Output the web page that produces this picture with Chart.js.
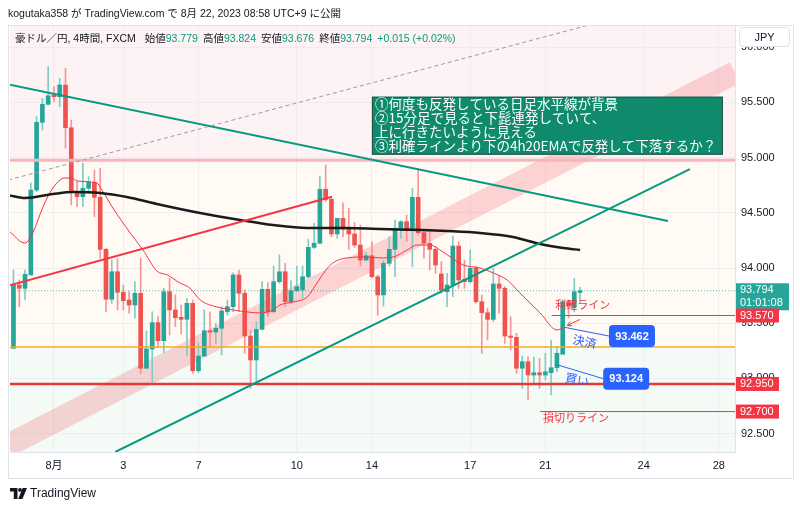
<!DOCTYPE html>
<html><head><meta charset="utf-8">
<script src="https://cdn.jsdelivr.net/npm/chart.js@4.4.0/dist/chart.umd.min.js"></script>
<style>
html,body{margin:0;padding:0;background:#fff;width:800px;height:508px;overflow:hidden;}
#wrap{position:relative;width:800px;height:508px;font-family:"Liberation Sans","Noto Sans CJK JP",sans-serif;color:#131722;}
canvas{position:absolute;left:0;top:0;}
.pub{position:absolute;left:8px;top:5px;font-size:10.5px;white-space:nowrap;}
.legend{position:absolute;left:15px;top:30px;font-size:10.5px;white-space:nowrap;}
.legend span{margin-right:5px;}
.legend .v{color:#089981;margin-left:0;}
.legend .k{margin-right:0;}
.jpy{position:absolute;left:739px;top:27px;width:49px;height:18px;border:1px solid #e0e3eb;border-radius:4px;background:#fff;font-size:11px;line-height:18px;text-align:center;}
.tv{position:absolute;left:10px;top:486px;font-size:12px;display:flex;align-items:center;gap:3px;}
</style></head>
<body><div id="wrap">
<canvas id="c" width="800" height="508"></canvas>
<div class="pub">kogutaka358 が TradingView.com で 8月 22, 2023 08:58 UTC+9 に公開</div>
<div class="legend"><span style="margin-right:9px">豪ドル／円, 4時間, FXCM</span><span class="k">始値</span><span class="v">93.779</span><span class="k">高値</span><span class="v">93.824</span><span class="k">安値</span><span class="v">93.676</span><span class="k">終値</span><span class="v">93.794</span><span class="v">+0.015 (+0.02%)</span></div>
<div class="jpy">JPY</div>
<div class="tv"><svg width="17" height="11" viewBox="0 0 17 11"><path d="M0 0h7.5v11H3.8V3.6H0z" fill="#131722"/><circle cx="10" cy="1.9" r="1.9" fill="#131722"/><path d="M12.6 0H17l-4.6 11H8.2z" fill="#131722"/></svg><span>TradingView</span></div>
</div>
<script>
// ---- data ----
const dayTicks = [7, 19, 32, 49, 62, 79, 92, 109, 122];
const dayLabels = ['8月', '3', '7', '10', '14', '17', '21', '24', '28'];
const priceTicks = [92.5, 93.0, 93.5, 94.0, 94.5, 95.0, 95.5, 96.0];

const opens = [93.273,93.846,93.816,93.937,94.706,95.319,95.482,95.567,95.551,95.657,
95.270,94.686,94.646,94.722,94.776,94.640,94.169,93.717,93.966,93.780,
93.710,93.665,93.771,93.092,93.267,93.505,93.342,93.785,93.620,93.554,
93.535,93.680,93.070,93.203,93.432,93.420,93.454,93.604,93.650,93.937,
93.771,93.384,93.167,93.445,93.807,93.604,93.876,93.966,93.695,93.794,
93.801,93.921,94.187,94.224,94.713,94.622,94.308,94.450,94.350,94.308,
94.208,94.072,94.111,93.921,93.756,94.043,94.169,94.360,94.419,94.338,
94.640,94.320,94.224,94.169,93.946,93.785,93.846,94.199,93.898,93.876,
93.997,93.695,93.595,93.535,93.855,93.816,93.384,93.372,93.092,93.151,
93.031,93.052,93.031,93.052,93.097,93.219,93.695,93.647,93.779];
const highs = [93.982,93.891,93.982,94.770,95.370,95.537,95.823,95.642,95.718,95.808,
95.340,94.781,94.948,94.827,94.887,94.903,94.178,94.072,94.082,93.846,
93.785,93.876,94.088,93.429,93.604,93.559,93.816,93.907,93.756,93.665,
93.726,93.710,93.324,93.620,93.604,93.499,93.650,93.710,93.957,93.982,
93.801,93.439,93.514,93.876,93.867,94.018,94.118,94.043,93.885,94.018,
94.018,94.260,94.405,94.833,94.933,94.631,94.450,94.591,94.541,94.410,
94.389,94.139,94.238,93.937,94.072,94.283,94.435,94.428,94.480,94.722,
94.887,94.344,94.329,94.193,94.057,93.952,94.290,94.238,94.072,94.163,
94.012,93.756,93.635,93.997,93.928,93.831,93.559,93.409,93.203,93.197,
93.191,93.182,93.228,93.348,93.294,93.710,93.712,93.907,93.824];
const lows = [93.273,93.650,93.710,93.937,94.691,95.250,95.476,95.506,95.461,95.084,
94.571,94.555,94.555,94.676,94.465,94.088,93.604,93.680,93.620,93.620,
93.590,93.545,93.046,93.092,92.970,93.287,93.233,93.393,93.468,93.402,
93.203,93.046,93.052,93.197,93.287,93.312,93.212,93.574,93.604,93.604,
93.228,92.911,92.970,93.439,93.559,93.590,93.861,93.650,93.680,93.785,
93.726,93.907,94.178,94.217,94.600,94.283,94.269,94.283,94.169,94.187,
94.018,94.063,93.907,93.574,93.656,94.018,93.921,94.269,94.238,94.012,
94.299,94.088,93.982,93.952,93.771,93.650,93.740,93.816,93.816,93.861,
93.680,93.228,93.348,93.514,93.590,93.318,93.257,93.046,92.911,92.805,
92.956,92.911,92.986,92.850,93.061,93.219,93.547,93.604,93.676];
const closes = [93.852,93.816,93.943,94.706,95.319,95.482,95.560,95.551,95.657,95.270,
94.682,94.646,94.722,94.776,94.640,94.169,93.717,93.966,93.780,93.704,
93.665,93.771,93.092,93.267,93.505,93.342,93.785,93.620,93.550,93.535,
93.680,93.070,93.203,93.432,93.420,93.454,93.611,93.650,93.937,93.771,
93.384,93.167,93.445,93.807,93.604,93.876,93.966,93.695,93.794,93.831,
93.921,94.187,94.224,94.713,94.622,94.308,94.450,94.350,94.308,94.208,
94.072,94.111,93.921,93.756,94.043,94.169,94.360,94.419,94.338,94.640,
94.320,94.224,94.169,94.027,93.801,93.846,94.199,93.891,93.876,93.997,
93.695,93.595,93.535,93.855,93.816,93.384,93.372,93.092,93.151,93.031,
93.052,93.031,93.061,93.097,93.228,93.695,93.660,93.785,93.794];

const ema20 = [[-0.95,94.344],[2.0,94.226],[3.4,94.326],[5.1,94.552],[6.8,94.724],[8.9,94.815],[10.1,94.815],[11.0,94.788],[14.4,94.770],[15.3,94.706],[17.2,94.543],[20.2,94.317],[22.4,94.163],[24.8,93.973],[26.6,93.937],[28.8,93.864],[30.5,93.819],[32.3,93.710],[35.2,93.647],[38.0,93.620],[40.4,93.602],[42.6,93.593],[44.9,93.620],[46.1,93.665],[48.4,93.692],[50.8,93.737],[52.5,93.864],[54.8,94.027],[57.7,94.091],[61.2,94.100],[63.4,94.091],[65.7,94.100],[68.1,94.163],[69.8,94.208],[72.1,94.208],[74.3,94.145],[77.8,94.027],[80.7,94.000],[83.0,93.955],[85.4,93.891],[87.6,93.774],[91.1,93.593],[94.0,93.439],[95.1,93.457]];
const sma200 = [[-0.95,94.661],[2.0,94.634],[6.8,94.670],[10.3,94.688],[15.0,94.679],[19.6,94.643],[24.8,94.580],[32.3,94.498],[39.2,94.435],[44.9,94.389],[50.8,94.362],[57.7,94.362],[63.4,94.353],[70.8,94.344],[75.0,94.335],[80.7,94.317],[86.4,94.281],[91.1,94.217],[95.1,94.181],[98.0,94.163]];

const trendTealDown = [[-0.9,95.663],[113.2,94.426]];
const trendTealUp = [[17.6,92.334],[117.0,94.896]];
const trendRedUp = [[-0.9,93.840],[55.1,94.646]];
const trendDashed = [[-0.9,94.797],[101.5,96.228]];
const bandCenter = [[-0.95,92.395],[124.8,95.770]];

const resistanceLevel = 94.975;
const midLevel = 93.284;
const supportLevel = 92.950;
const takeProfit = 93.570;
const stopLoss = 92.700;
const lastPrice = 93.794;
const entryPrice = 93.124;
const exitPrice = 93.462;
const countdown = '01:01:08';
const noteLines = ['①何度も反発している日足水平線が背景','②15分足で見ると下髭連発していて、','上に行きたいように見える','③利確ラインより下の4h20EMAで反発して下落するか？'];

// ---- build ----
const UP = '#26a69a', DN = '#ef5350', UPW = '#82cbc2', DNW = '#f59598';
const isUp = i => closes[i] >= opens[i];
const pts = a => a.map(p => ({x: p[0], y: p[1]}));
const hline = (v) => [{x: -3, y: v}, {x: 130, y: v}];
const wickData = opens.map((o, i) => ({x: i, y: [lows[i], highs[i]]}));
const bodyData = opens.map((o, i) => ({x: i, y: [Math.min(o, closes[i]), Math.max(o, closes[i])]}));

const lineDs = (data, color, width, order, extra) => Object.assign({
  type: 'line', data, borderColor: color, borderWidth: width, pointRadius: 0, fill: false, order, clip: 0
}, extra || {});

const zonesPlugin = {
  id: 'zones',
  beforeDraw(chart) {
    const {ctx, chartArea: a, scales: {y}} = chart;
    const y1 = y.getPixelForValue(resistanceLevel), y2 = y.getPixelForValue(midLevel);
    ctx.save();
    ctx.fillStyle = '#fdf3f4'; ctx.fillRect(a.left, a.top, a.right - a.left, y1 - a.top);
    ctx.fillStyle = '#fffaf4'; ctx.fillRect(a.left, y1, a.right - a.left, y2 - y1);
    ctx.fillStyle = '#f4faf6'; ctx.fillRect(a.left, y2, a.right - a.left, a.bottom - y2);
    ctx.restore();
  }
};

const notesPlugin = {
  id: 'notes',
  afterDatasetsDraw(chart) {
    const {ctx, chartArea: a, scales: {x, y}} = chart;
    const X = v => x.getPixelForValue(v), Y = v => y.getPixelForValue(v);
    ctx.save();
    ctx.beginPath(); ctx.rect(a.left, a.top, a.right - a.left, a.bottom - a.top); ctx.clip();
    ctx.font = '11px "Noto Sans CJK JP"'; ctx.fillStyle = '#f23645'; ctx.textBaseline = 'middle'; ctx.textAlign = 'left';
    ctx.fillText('利確ライン', X(93.7), Y(93.665));
    ctx.fillText('損切りライン', X(91.6), Y(92.642));
    const ax1 = X(98.0), ay1 = Y(93.534), ax2 = X(95.8), ay2 = Y(93.479);
    ctx.strokeStyle = '#f23645'; ctx.lineWidth = 1;
    ctx.beginPath(); ctx.moveTo(ax1, ay1); ctx.lineTo(ax2, ay2); ctx.stroke();
    const ang = Math.atan2(ay2 - ay1, ax2 - ax1);
    ctx.beginPath();
    ctx.moveTo(ax2 + 5 * Math.cos(ang + Math.PI - 0.5), ay2 + 5 * Math.sin(ang + Math.PI - 0.5));
    ctx.lineTo(ax2, ay2);
    ctx.lineTo(ax2 + 5 * Math.cos(ang + Math.PI + 0.5), ay2 + 5 * Math.sin(ang + Math.PI + 0.5));
    ctx.stroke();
    const callout = (fx, fv, bx, bv, txt) => {
      const x0 = X(fx), y0 = Y(fv), x1 = X(bx), ym = Y(bv);
      ctx.strokeStyle = '#2962ff'; ctx.lineWidth = 1;
      ctx.beginPath(); ctx.moveTo(x0, y0); ctx.lineTo(x1, ym); ctx.stroke();
      ctx.fillStyle = '#2962ff';
      ctx.beginPath(); ctx.roundRect(x1, ym - 11, 46, 22, 4); ctx.fill();
      ctx.fillStyle = '#fff'; ctx.font = 'bold 11px "Liberation Sans"'; ctx.textAlign = 'center';
      ctx.fillText(txt, x1 + 23, ym + 0.5);
    };
    callout(95.4, exitPrice, 103.0, 93.384, exitPrice.toFixed(3));
    callout(94.0, entryPrice, 102.0, 92.998, entryPrice.toFixed(3));
    const rot = (txt, cx, cv) => {
      ctx.save(); ctx.translate(X(cx), Y(cv)); ctx.rotate(0.2);
      ctx.fillStyle = '#2962ff'; ctx.font = '12px "Noto Sans CJK JP"'; ctx.textAlign = 'center';
      ctx.fillText(txt, 0, 0); ctx.restore();
    };
    rot('決済', 98.8, 93.335);
    rot('買い', 97.5, 92.990);
    const bx = X(62.0), by = Y(95.551);
    ctx.fillStyle = '#0f8a6d'; ctx.fillRect(bx, by, 351, 58);
    ctx.strokeStyle = '#2b4f46'; ctx.lineWidth = 1; ctx.strokeRect(bx + 0.5, by + 0.5, 350, 57);
    ctx.fillStyle = '#fff'; ctx.font = '13.5px "Noto Sans CJK JP"'; ctx.textAlign = 'left'; ctx.textBaseline = 'middle';
    noteLines.forEach((t, i) => ctx.fillText(t, bx + 3, by + 7 + i * 14));
    ctx.restore();
  },
  afterDraw(chart) {
    const {ctx, scales: {y}} = chart;
    const tag = (v, txt, bg, w, txt2) => {
      const yy = y.getPixelForValue(v);
      ctx.fillStyle = bg;
      const h = txt2 ? 27 : 14;
      const top = txt2 ? yy - 7.5 : yy - 7;
      ctx.fillRect(736, top, w, h);
      ctx.fillStyle = '#fff'; ctx.font = '11px "Liberation Sans"'; ctx.textAlign = 'left'; ctx.textBaseline = 'middle';
      ctx.fillText(txt, 740, top + 7);
      if (txt2) ctx.fillText(txt2, 740, top + 20);
    };
    tag(lastPrice, lastPrice.toFixed(3), '#26a69a', 53, countdown);
    tag(takeProfit, takeProfit.toFixed(3), '#f23645', 43);
    tag(supportLevel, supportLevel.toFixed(3), '#f23645', 43);
    tag(stopLoss, stopLoss.toFixed(3), '#f23645', 43);
    ctx.strokeStyle = '#e0e3eb'; ctx.lineWidth = 1;
    ctx.strokeRect(8.5, 25.5, 785, 453);
  }
};

const noPad = s => { s.paddingLeft = 0; s.paddingRight = 0; s.paddingTop = 0; s.paddingBottom = 0; };

new Chart(document.getElementById('c'), {
  type: 'bar',
  data: {
    datasets: [
      lineDs(pts(bandCenter), 'rgba(242,54,69,0.2)', 23, 20),
      {type: 'bar', data: wickData, backgroundColor: wickData.map((d, i) => isUp(i) ? UPW : DNW), barThickness: 1, grouped: false, order: 12, minBarLength: 1},
      {type: 'bar', data: bodyData, backgroundColor: bodyData.map((d, i) => isUp(i) ? UP : DN), barThickness: 4, grouped: false, order: 11, minBarLength: 1},
      lineDs(hline(resistanceLevel), '#f7b5bb', 3, 10),
      lineDs(hline(midLevel), '#f9a825', 1.5, 9),
      lineDs(hline(lastPrice), 'rgba(38,166,154,0.8)', 1, 9, {borderDash: [1, 2]}),
      lineDs([{x: 93.1, y: takeProfit}, {x: 130, y: takeProfit}], '#f23645', 1, 9),
      lineDs([{x: 91.1, y: stopLoss}, {x: 130, y: stopLoss}], '#f23645', 1, 9),
      lineDs(hline(supportLevel), '#e53935', 2.5, 8),
      lineDs(pts(ema20), '#f23645', 1, 7, {cubicInterpolationMode: 'monotone'}),
      lineDs(pts(sma200), '#1b1b1b', 2.5, 6, {cubicInterpolationMode: 'monotone'}),
      lineDs(pts(trendDashed), '#9a9ca3', 1, 5, {borderDash: [4, 3]}),
      lineDs(pts(trendRedUp), '#f23645', 2, 5),
      lineDs(pts(trendTealDown), '#089981', 2, 5),
      lineDs(pts(trendTealUp), '#089981', 2, 5)
    ]
  },
  options: {
    responsive: false, animation: false, devicePixelRatio: 1,
    layout: {padding: {left: 10, top: 25, right: 7, bottom: 30}},
    plugins: {legend: {display: false}, tooltip: {enabled: false}},
    scales: {
      x: {
        type: 'linear', min: -0.6, max: 124.8, offset: false,
        afterBuildTicks: s => { s.ticks = dayTicks.map(v => ({value: v})); },
        afterFit: s => { s.height = 26; noPad(s); },
        ticks: {callback: (v, i) => dayLabels[i], autoSkip: false, maxRotation: 0, color: '#131722', font: {family: '"Liberation Sans","Noto Sans CJK JP"', size: 11}, padding: 7},
        grid: {color: 'rgba(225,229,238,0.55)', drawTicks: false, offset: false},
        border: {color: '#e0e3eb'}
      },
      y: {
        position: 'right', min: 92.3338, max: 96.2005,
        afterBuildTicks: s => { s.ticks = priceTicks.map(v => ({value: v})); },
        afterFit: s => { s.width = 58; noPad(s); },
        ticks: {callback: v => v.toFixed(3), color: '#131722', font: {family: '"Liberation Sans"', size: 11}, padding: 6, crossAlign: 'near'},
        grid: {color: 'rgba(225,229,238,0.55)', drawTicks: false},
        border: {color: '#e0e3eb'}
      }
    }
  },
  plugins: [zonesPlugin, notesPlugin]
});
</script>
</body></html>
